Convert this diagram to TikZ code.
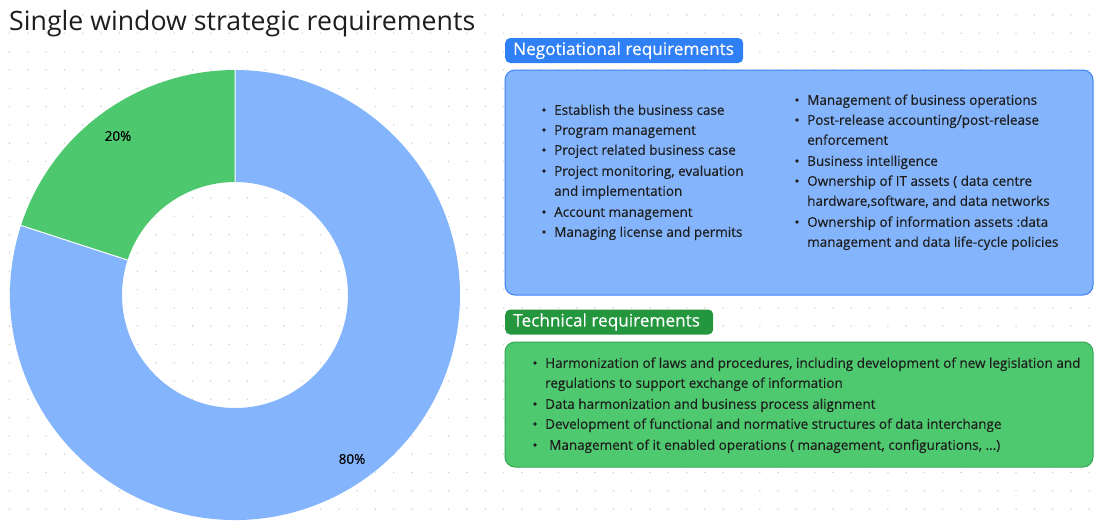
\documentclass[tikz,border=0pt]{standalone}
\usepackage{fontspec}
\setmainfont{Open Sans}
\newfontfamily\medfont{Open Sans}[FakeBold=0.3]
\definecolor{dotc}{HTML}{D6D6D6}
\definecolor{pblue}{HTML}{2F80F5}
\definecolor{bfill}{HTML}{84B4FC}
\definecolor{bline}{HTML}{3B82F6}
\definecolor{pgreen}{HTML}{23963E}
\definecolor{gfill}{HTML}{4FC96F}
\definecolor{gline}{HTML}{33A653}
\definecolor{dgreen}{HTML}{4DC86E}
\definecolor{txt}{HTML}{1E1E1E}
\tikzset{
  pill/.style={rounded corners=5pt, inner sep=0pt, minimum height=25pt, anchor=west},
  pilltxt/.style={anchor=west, inner sep=0pt, text=white, font=\medfont\fontsize{17.2}{19}\selectfont},
  bigbox/.style={rounded corners=10pt, line width=1pt},
  itemtxt/.style={anchor=base west, inner sep=0pt, text=txt, font=\medfont\fontsize{13.5}{15}\selectfont},
  pct/.style={inner sep=0pt, text=black, font=\medfont\fontsize{13.5}{15}\selectfont},
}
\newcommand\bitem[4]{%
  \fill[txt] (#2-10,-#3) circle (1.8);
  \node[itemtxt] (#1) at (#2,-#3-4.8) {#4};}
\newcommand\citem[4]{%
  \node[itemtxt] (#1) at (#2,-#3-4.8) {#4};}
\begin{document}
\begin{tikzpicture}[x=1pt,y=1pt]
\useasboundingbox (0,0) rectangle (1094,-520);
\clip (0,0) rectangle (1094,-520);
% dot grid
\foreach \i in {0,...,59}{
  \foreach \j in {0,...,28}{
    \fill[dotc] (9.5+18.3*\i,-15-18.3*\j) circle (0.9);
  }
}
% title
\node[anchor=base west, inner sep=0pt, text=txt, font=\fontsize{26.7}{30}\selectfont] (title) at (9,-30) {Single window strategic requirements};
% donut
\begin{scope}[shift={(235,-295)}]
  \fill[bfill] (162:225) arc[start angle=162, end angle=450, radius=225] -- (450:113) arc[start angle=450, end angle=162, radius=113] -- cycle;
  \fill[dgreen] (90:225) arc[start angle=90, end angle=162, radius=225] -- (162:113) arc[start angle=162, end angle=90, radius=113] -- cycle;
  \draw[white, line width=1pt] (90:113) -- (90:225) (162:113) -- (162:225);
\end{scope}
\node[pct] (p20) at (118,-136) {20\%};
\node[pct] (p80) at (352,-459) {80\%};
% negotiational
\draw[bigbox, fill=bfill, draw=bline] (505,-70) rectangle (1093,-295);
\node[pill, fill=pblue, minimum width=238pt] (nlab) at (505,-50.5) {};
\node[pilltxt] (nlabt) at (513,-50.5) {Negotiational requirements};
\bitem{a1}{554}{110}{Establish the business case}
\bitem{a2}{554}{130}{Program management}
\bitem{a3}{554}{150}{Project related business case}
\bitem{a4}{554}{171}{Project monitoring, evaluation}
\citem{a5}{554}{191}{and implementation}
\bitem{a6}{554}{212}{Account management}
\bitem{a7}{554}{232}{Managing license and permits}
\bitem{b1}{807}{100}{Management of business operations}
\bitem{b2}{807}{120}{Post-release accounting/post-release}
\citem{b3}{807}{140}{enforcement}
\bitem{b4}{807}{161}{Business intelligence}
\bitem{b5}{807}{181}{Ownership of IT assets ( data centre}
\citem{b6}{807}{201}{hardware,software, and data networks}
\bitem{b7}{807}{222}{Ownership of information assets :data}
\citem{b8}{807}{242}{management and data life-cycle policies}
% technical
\draw[bigbox, fill=gfill, draw=gline] (505,-342) rectangle (1093,-467);
\node[pill, fill=pgreen, minimum width=208pt] (tlab) at (505,-322) {};
\node[pilltxt] (tlabt) at (513,-322) {Technical requirements};
\bitem{c1}{545}{363}{Harmonization of laws and procedures, including development of new legislation and}
\citem{c2}{545}{383}{regulations to support exchange of information}
\bitem{c3}{545}{404}{Data harmonization and business process alignment}
\bitem{c4}{545}{424}{Development of functional and normative structures of data interchange}
\fill[txt] (535,-445) circle (1.8);
\citem{c5}{549}{445}{Management of it enabled operations ( management, configurations, ...)}
\end{tikzpicture}
\end{document}
